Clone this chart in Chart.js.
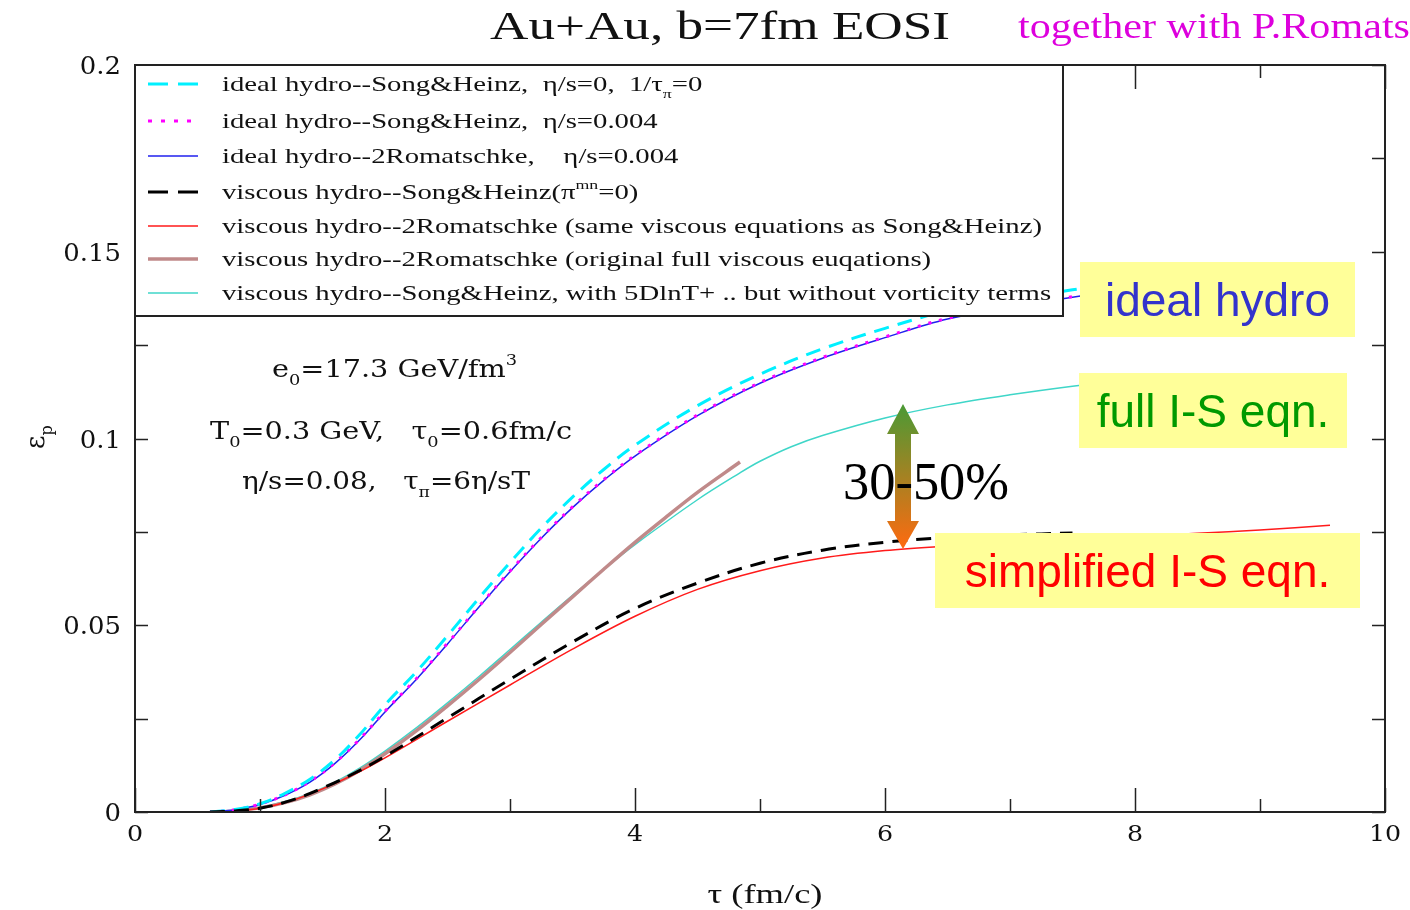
<!DOCTYPE html>
<html>
<head>
<meta charset="utf-8">
<script src="https://cdn.jsdelivr.net/npm/chart.js@4.4.1/dist/chart.umd.min.js"></script>
<style>
  body { margin: 0; background: #fff; }
  #wrap { width: 1410px; height: 910px; }
</style>
</head>
<body>
<div id="wrap"><canvas id="epChart" width="1410" height="910"></canvas></div>
<script>
// tick labels
const xTicks = [0, 2, 4, 6, 8, 10];
const xMinor = [1, 3, 5, 7, 9];
const yTicks = [0, 0.05, 0.1, 0.15, 0.2];
const yMinor = [0.025, 0.075, 0.125, 0.175];

// ideal hydro curves (tau in fm/c)
const tauIdeal = [0.6, 0.8, 1.0, 1.2, 1.4, 1.6, 1.8, 2.0, 2.25, 2.5, 2.75, 3.0, 3.25, 3.5, 3.75, 4.0, 4.5, 5.0, 5.5, 6.0, 6.5, 7.0, 7.5, 8.0];
const idealSH0   = [0, 0.0007, 0.0022, 0.0050, 0.0088, 0.0140, 0.0208, 0.0287, 0.0375, 0.0472, 0.0572, 0.0668, 0.0760, 0.0843, 0.0917, 0.0982, 0.1088, 0.1172, 0.1240, 0.1295, 0.1342, 0.1372, 0.1398, 0.1420];
const idealSH004 = [0, 0.0006, 0.0021, 0.0046, 0.0082, 0.0132, 0.0196, 0.0270, 0.0357, 0.0452, 0.0550, 0.0645, 0.0735, 0.0817, 0.0890, 0.0955, 0.1063, 0.1150, 0.1217, 0.1272, 0.1322, 0.1352, 0.1380, 0.1402];
const idealRom   = [0, 0.0006, 0.0020, 0.0045, 0.0080, 0.0130, 0.0194, 0.0268, 0.0355, 0.0450, 0.0548, 0.0643, 0.0733, 0.0815, 0.0888, 0.0953, 0.1061, 0.1148, 0.1215, 0.1270, 0.1320, 0.1350, 0.1378, 0.1400];

// viscous, simplified I-S
const tauSimple = [0.6, 0.8, 1.0, 1.25, 1.5, 1.75, 2.0, 2.5, 3.0, 3.5, 4.0, 4.5, 5.0, 5.5, 6.0, 6.5, 7.0, 7.5, 8.0, 8.5, 9.0, 9.56];
const viscRomSame = [0, 0.0003, 0.0010, 0.0030, 0.0062, 0.0100, 0.0145, 0.0243, 0.0340, 0.0436, 0.0524, 0.0596, 0.0646, 0.0680, 0.0700, 0.0712, 0.0721, 0.0729, 0.0737, 0.0746, 0.0755, 0.0768];
const tauSH = [0.6, 0.8, 1.0, 1.25, 1.5, 1.75, 2.0, 2.5, 3.0, 3.5, 4.0, 4.5, 5.0, 5.5, 6.0, 6.5, 7.0, 7.5];
const viscSH = [0, 0.0003, 0.0010, 0.0031, 0.0064, 0.0103, 0.0149, 0.0252, 0.0355, 0.0455, 0.0545, 0.0613, 0.0666, 0.0701, 0.0722, 0.0735, 0.0742, 0.0747];

// viscous, full I-S
const tauFull = [0.6, 0.8, 1.0, 1.2, 1.4, 1.6, 1.8, 2.0, 2.25, 2.5, 2.75, 3.0, 3.25, 3.5, 3.75, 4.0, 4.5, 4.84, 5.0, 5.25, 5.5, 6.0, 6.5, 7.0, 7.5, 8.0];
const viscSH5D = [0, 0.0004, 0.0013, 0.0028, 0.0050, 0.0080, 0.0118, 0.0163, 0.0225, 0.0292, 0.0362, 0.0435, 0.0508, 0.0580, 0.0650, 0.0716, 0.0836, 0.0908, 0.0939, 0.0978, 0.1008, 0.1055, 0.1090, 0.1117, 0.1140, 0.1160];
const tauRomFull = [0.6, 0.8, 1.0, 1.2, 1.4, 1.6, 1.8, 2.0, 2.25, 2.5, 2.75, 3.0, 3.25, 3.5, 3.75, 4.0, 4.25, 4.5, 4.84];
const viscRomFull = [0, 0.0003, 0.0011, 0.0025, 0.0046, 0.0075, 0.0112, 0.0156, 0.0217, 0.0284, 0.0354, 0.0427, 0.0502, 0.0576, 0.0650, 0.0722, 0.0790, 0.0856, 0.0937];

const seriesLabels = [
  'ideal hydro--Song&Heinz, η/s=0, 1/τπ=0',
  'ideal hydro--Song&Heinz, η/s=0.004',
  'ideal hydro--2Romatschke, η/s=0.004',
  'viscous hydro--Song&Heinz(πmn=0)',
  'viscous hydro--2Romatschke (same viscous equations as Song&Heinz)',
  'viscous hydro--2Romatschke (original full viscous euqations)',
  'viscous hydro--Song&Heinz, with 5DlnT+ .. but without vorticity terms'
];
const seriesColors = ['#00f0ff', '#ff00ff', '#2020ee', '#000000', '#ff1a1a', '#c08a8a', '#3fd6c8'];
const seriesWidths = [3, 3, 1.5, 3, 1.5, 3.5, 1.5];
const seriesDash   = [[15, 9], [3, 8], [], [15, 9], [], [], []];
const legendDash   = [[20, 10], [4, 9], [], [20, 10], [], [], []];

function pts(xs, ys) { return xs.map((x, i) => ({ x: x, y: ys[i] })); }

const seriesData = [
  pts(tauIdeal, idealSH0), pts(tauIdeal, idealSH004), pts(tauIdeal, idealRom),
  pts(tauSH, viscSH), pts(tauSimple, viscRomSame),
  pts(tauRomFull, viscRomFull), pts(tauFull, viscSH5D)
];

// draw order: lower order on top; keep magenta dots over blue line
const drawOrder = [1, 2, 3, 0, 4, 5, 6];

const datasets = seriesData.map((d, i) => ({
  label: seriesLabels[i],
  data: d,
  borderColor: seriesColors[i],
  borderWidth: seriesWidths[i],
  borderDash: seriesDash[i],
  pointRadius: 0,
  fill: false,
  tension: 0.35,
  order: drawOrder[i]
}));

// text helper: parts = [[text, mode]], mode '' | 'sub' | 'sup'
function partsWidth(ctx, parts, size, family) {
  let w = 0;
  parts.forEach(p => {
    const s = p[1] ? size * 0.62 : size;
    ctx.font = s + 'px ' + family;
    w += ctx.measureText(p[0]).width;
  });
  return w;
}
function richText(ctx, parts, x, y, size, family, color, align, fitW, sx) {
  const nat = partsWidth(ctx, parts, size, family);
  if (fitW) sx = fitW / nat;
  sx = sx || 1;
  let cx = x;
  if (align === 'center') cx = x - nat * sx / 2;
  if (align === 'right') cx = x - nat * sx;
  ctx.fillStyle = color;
  ctx.textBaseline = 'alphabetic';
  ctx.textAlign = 'left';
  parts.forEach(p => {
    const s = p[1] ? size * 0.62 : size;
    ctx.font = s + 'px ' + family;
    let dy = 0;
    if (p[1] === 'sub') dy = size * 0.32;
    if (p[1] === 'sup') dy = -size * 0.48;
    ctx.save();
    ctx.translate(cx, y + dy);
    ctx.scale(sx, 1);
    ctx.fillText(p[0], 0, 0);
    ctx.restore();
    cx += ctx.measureText(p[0]).width * sx;
  });
  return sx;
}

const SERIF = '"Liberation Serif", "Times New Roman", serif';
const DSERIF = '"DejaVu Serif", serif';
const SANS = '"Liberation Sans", Arial, sans-serif';

const legendParts = [
  [['ideal hydro--Song&Heinz,  η/s=0,  1/τ', ''], ['π', 'sub'], ['=0', '']],
  [['ideal hydro--Song&Heinz,  η/s=0.004', '']],
  [['ideal hydro--2Romatschke,    η/s=0.004', '']],
  [['viscous hydro--Song&Heinz(π', ''], ['mn', 'sup'], ['=0)', '']],
  [['viscous hydro--2Romatschke (same viscous equations as Song&Heinz)', '']],
  [['viscous hydro--2Romatschke (original full viscous euqations)', '']],
  [['viscous hydro--Song&Heinz, with 5DlnT+ .. but without vorticity terms', '']]
];

const decor = {
  id: 'decor',
  afterDraw(chart) {
    const ctx = chart.ctx;
    const ca = chart.chartArea;
    const xs = chart.scales.x, ys = chart.scales.y;
    ctx.save();

    // frame
    ctx.strokeStyle = '#222';
    ctx.lineWidth = 2;
    ctx.setLineDash([]);
    ctx.strokeRect(ca.left, ca.top, ca.right - ca.left, ca.bottom - ca.top);

    // inward ticks
    ctx.lineWidth = 1.5;
    ctx.beginPath();
    xTicks.concat(xMinor).forEach(v => {
      const px = Math.round(xs.getPixelForValue(v)) + 0.5;
      const len = xTicks.includes(v) ? 24 : 13;
      ctx.moveTo(px, ca.bottom); ctx.lineTo(px, ca.bottom - len);
      ctx.moveTo(px, ca.top); ctx.lineTo(px, ca.top + len);
    });
    yTicks.concat(yMinor).forEach(v => {
      const py = Math.round(ys.getPixelForValue(v)) + 0.5;
      const len = 13;
      ctx.moveTo(ca.left, py); ctx.lineTo(ca.left + len, py);
      ctx.moveTo(ca.right, py); ctx.lineTo(ca.right - len, py);
    });
    ctx.stroke();

    // tick labels
    xTicks.forEach(v => {
      richText(ctx, [[String(v), '']], xs.getPixelForValue(v), 841, 23, DSERIF, '#111', 'center', 0, 1.1);
    });
    yTicks.forEach(v => {
      richText(ctx, [[String(v), '']], ca.left - 14, ys.getPixelForValue(v) + 9, 24, DSERIF, '#111', 'right', 0, 1.08);
    });

    // axis titles
    richText(ctx, [['τ (fm/c)', '']], 765, 903, 28, SERIF, '#111', 'center', 115);
    ctx.save();
    ctx.translate(44, 437);
    ctx.rotate(-Math.PI / 2);
    richText(ctx, [['ε', ''], ['p', 'sub']], 0, 0, 26, DSERIF, '#111', 'center', 0, 1);
    ctx.restore();

    // legend box
    const lx = ca.left, ly = ca.top, lw = 928, lh = 251;
    ctx.fillStyle = '#fff';
    ctx.fillRect(lx, ly, lw, lh);
    ctx.strokeStyle = '#222';
    ctx.lineWidth = 2;
    ctx.strokeRect(lx, ly, lw, lh);
    const rowY = [84, 121, 156, 192, 226, 259, 293];
    const legSx = 820 / partsWidth(ctx, legendParts[4], 21, SERIF);
    rowY.forEach((y, i) => {
      ctx.beginPath();
      ctx.strokeStyle = seriesColors[i];
      ctx.lineWidth = seriesWidths[i];
      ctx.setLineDash(legendDash[i]);
      ctx.moveTo(148, y); ctx.lineTo(198, y);
      ctx.stroke();
      ctx.setLineDash([]);
      richText(ctx, legendParts[i], 222, y + 7, 21, SERIF, '#111', 'left', 0, legSx);
    });

    // parameter annotations
    richText(ctx, [['e', ''], ['0', 'sub'], ['=17.3 GeV/fm', ''], ['3', 'sup']], 272, 377, 24, DSERIF, '#111', 'left', 245);
    richText(ctx, [['T', ''], ['0', 'sub'], ['=0.3 GeV,   τ', ''], ['0', 'sub'], ['=0.6fm/c', '']], 210, 439, 24, DSERIF, '#111', 'left', 362);
    richText(ctx, [['η/s=0.08,   τ', ''], ['π', 'sub'], ['=6η/sT', '']], 242, 489, 24, DSERIF, '#111', 'left', 288);

    // yellow label boxes
    const boxes = [
      { x: 1080, y: 262, w: 275, h: 75, text: 'ideal hydro', color: '#3333cc' },
      { x: 1079, y: 373, w: 268, h: 75, text: 'full I-S eqn.', color: '#009900' },
      { x: 935, y: 533, w: 425, h: 75, text: 'simplified I-S eqn.', color: '#ff0000' }
    ];
    boxes.forEach(b => {
      ctx.fillStyle = '#ffff99';
      ctx.fillRect(b.x, b.y, b.w, b.h);
      richText(ctx, [[b.text, '']], b.x + b.w / 2, b.y + b.h / 2 + 16, 46, SANS, b.color, 'center', 0, 1);
    });

    // double arrow with gradient
    const ax = 903, top = 404, bot = 549;
    const g = ctx.createLinearGradient(0, top, 0, bot);
    g.addColorStop(0, '#4a9a35');
    g.addColorStop(1, '#ff6a10');
    ctx.fillStyle = g;
    ctx.beginPath();
    ctx.moveTo(ax, top);
    ctx.lineTo(ax + 16, top + 30);
    ctx.lineTo(ax + 8, top + 30);
    ctx.lineTo(ax + 8, bot - 28);
    ctx.lineTo(ax + 16, bot - 28);
    ctx.lineTo(ax, bot);
    ctx.lineTo(ax - 16, bot - 28);
    ctx.lineTo(ax - 8, bot - 28);
    ctx.lineTo(ax - 8, top + 30);
    ctx.lineTo(ax - 16, top + 30);
    ctx.closePath();
    ctx.fill();
    richText(ctx, [['30-50%', '']], 843, 499, 52, SERIF, '#000', 'left', 166);

    // title
    richText(ctx, [['Au+Au, b=7fm EOSI', '']], 490, 39, 40, SERIF, '#111', 'left', 460);
    const tSx = 392 / partsWidth(ctx, [['together with P.Romats', '']], 36, SERIF);
    richText(ctx, [['together with P.Romatschke', '']], 1018, 38, 36, SERIF, '#dd00dd', 'left', 0, tSx);

    ctx.restore();
  }
};

new Chart(document.getElementById('epChart'), {
  type: 'line',
  data: { datasets: datasets },
  options: {
    responsive: false,
    animation: false,
    layout: { padding: { left: 135, right: 25, top: 65, bottom: 98 } },
    plugins: { legend: { display: false }, tooltip: { enabled: false } },
    scales: {
      x: { type: 'linear', min: 0, max: 10, display: false },
      y: { type: 'linear', min: 0, max: 0.2, display: false }
    }
  },
  plugins: [decor]
});
</script>
</body>
</html>
